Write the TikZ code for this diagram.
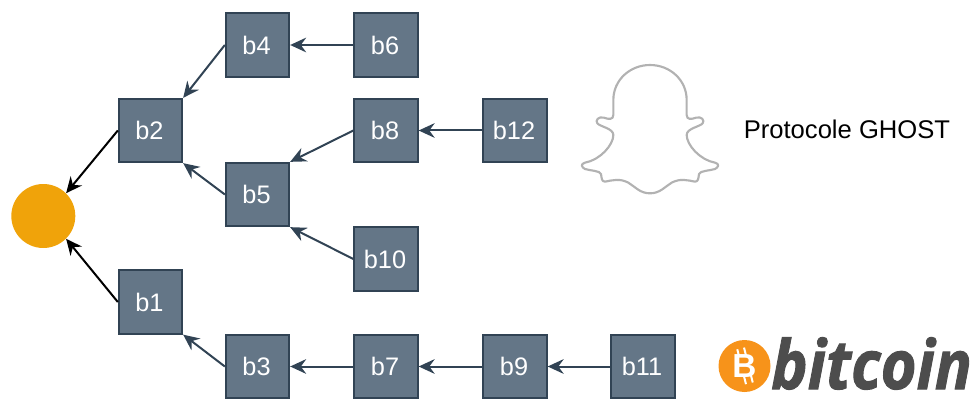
\documentclass[tikz,border=0pt]{standalone}
\usepackage{fontspec}
\setmainfont{Liberation Sans}
\newfontfamily\logofont{Open Sans}[BoldItalicFeatures={FakeBold=1.5}]
\usetikzlibrary{arrows.meta}
\definecolor{boxfill}{HTML}{647687}
\definecolor{boxline}{HTML}{314354}
\definecolor{dotfill}{HTML}{F0A30A}
\definecolor{btcorange}{HTML}{F7931A}
\definecolor{btcgrey}{HTML}{4D4D4D}
\tikzset{
  block/.style={draw=boxline,fill=boxfill,line width=1.5pt,minimum size=47.5pt,inner sep=0pt,text=white},
  blocklabel/.style={inner sep=0pt,text=white,font=\fontsize{19}{19}\selectfont},
  link/.style={draw=boxline,line width=1.5pt,-{Stealth[length=12pt,width=11pt,inset=4pt]}},
  linkb/.style={draw=black,line width=1.5pt,-{Stealth[length=12pt,width=11pt,inset=4pt]}}
}
\begin{document}
\begin{tikzpicture}[x=0.75pt,y=-0.75pt]
\useasboundingbox (0,0) rectangle (973,399);
\node[circle,fill=dotfill,minimum size=48pt,inner sep=0pt] (root) at (43.3,216) {};
\node[block,label={[blocklabel,xshift=-0.75pt]center:b1}] (b1) at (150.5,302) {};
\node[block,label={[blocklabel,xshift=-0.75pt]center:b2}] (b2) at (150.5,130.5) {};
\node[block,label={[blocklabel,xshift=-0.75pt]center:b3}] (b3) at (257.5,366.5) {};
\node[block,label={[blocklabel,xshift=-0.75pt]center:b4}] (b4) at (257.5,45) {};
\node[block,label={[blocklabel,xshift=-0.75pt]center:b5}] (b5) at (257.5,194.5) {};
\node[block,label={[blocklabel,xshift=-0.75pt]center:b6}] (b6) at (386,45) {};
\node[block,label={[blocklabel,xshift=-0.75pt]center:b7}] (b7) at (386,366.5) {};
\node[block,label={[blocklabel,xshift=-0.75pt]center:b8}] (b8) at (386,130.5) {};
\node[block,label={[blocklabel,xshift=-0.75pt]center:b9}] (b9) at (515,366.5) {};
\node[block,label={[blocklabel,xshift=-0.75pt]center:b10}] (b10) at (386,259) {};
\node[block,label={[blocklabel,xshift=-0.75pt]center:b11}] (b11) at (643,366.5) {};
\node[block,label={[blocklabel,xshift=-0.75pt]center:b12}] (b12) at (515,130.5) {};
\draw[linkb] (b2.west) -- (root.45);
\draw[linkb] (b1.west) -- (root.-45);
\draw[link] (b4.west) -- (b2.north east);
\draw[link] (b5.west) -- (b2.south east);
\draw[link] (b3.west) -- (b1.south east);
\draw[link] (b6.west) -- (b4.east);
\draw[link] (b8.west) -- (b5.north east);
\draw[link] (b10.west) -- (b5.south east);
\draw[link] (b7.west) -- (b3.east);
\draw[link] (b9.west) -- (b7.east);
\draw[link] (b11.west) -- (b9.east);
\draw[link] (b12.west) -- (b8.east);
\node[anchor=west,inner sep=0pt,font=\fontsize{19.2}{19}\selectfont] (title) at (743.5,129) {Protocole GHOST};
% ghost
\begin{scope}[shift={(570,50)},x=0.25pt,y=-0.25pt]
\draw[draw=black!30,line width=1.6pt,line join=round]
 (240,45) .. controls (300,45) and (350,90) .. (350,150) -- (350,195)
 .. controls (350,210) and (365,208) .. (378,203)
 .. controls (395,198) and (405,212) .. (398,220)
 .. controls (390,230) and (350,235) .. (350,255)
 .. controls (350,285) and (390,330) .. (435,338)
 .. controls (450,342) and (445,352) .. (435,357)
 .. controls (420,362) and (390,362) .. (387,372)
 .. controls (385,385) and (385,395) .. (375,395)
 .. controls (350,390) and (330,385) .. (305,398)
 .. controls (285,410) and (270,430) .. (240,430)
 .. controls (210,430) and (195,410) .. (175,398)
 .. controls (150,385) and (130,390) .. (105,395)
 .. controls (95,395) and (95,385) .. (93,372)
 .. controls (90,362) and (60,362) .. (45,357)
 .. controls (35,352) and (30,342) .. (45,338)
 .. controls (90,330) and (130,285) .. (130,255)
 .. controls (130,235) and (90,230) .. (82,220)
 .. controls (75,212) and (85,198) .. (102,203)
 .. controls (115,208) and (130,210) .. (130,195)
 -- (130,150) .. controls (130,90) and (180,45) .. (240,45) -- cycle;
\end{scope}
% bitcoin logo
\node[circle,fill=btcorange,minimum size=39pt,inner sep=0pt] (coin) at (744.5,366) {};
\begin{scope}[shift={(744.5,366)},rotate=14]
\draw[white,line width=1.5pt] (-3,-18) -- (-3,-10) (4,-18) -- (4,-10) (-3,18) -- (-3,10) (4,18) -- (4,10);
\node[inner sep=0pt,text=white,font=\fontsize{25}{25}\selectfont\bfseries] (coinb) at (0,0) {B};
\end{scope}
\node[anchor=base west,inner sep=0pt,text=btcgrey,yscale=1.11,font=\logofont\fontsize{46}{46}\selectfont\bfseries\itshape] (word) at (771,389) {bitcoin};
\end{tikzpicture}
\end{document}
